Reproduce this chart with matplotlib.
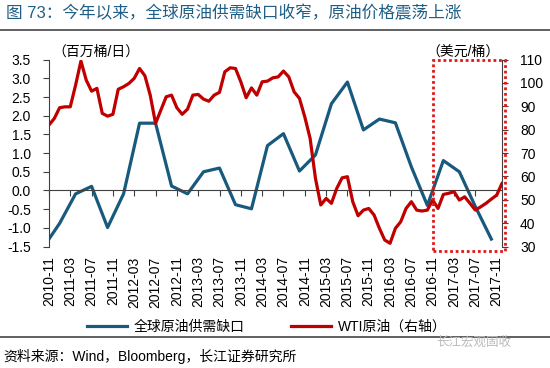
import matplotlib.pyplot as plt
import numpy as np
import pandas as pd
from matplotlib.patches import Rectangle
from matplotlib.lines import Line2D

plt.rcParams['font.family'] = ['Liberation Sans', 'Noto Sans CJK SC']
plt.rcParams['axes.unicode_minus'] = False

# WTI 原油月度价格（右轴，美元/桶）
wti_months = pd.period_range('2010-11', '2017-12', freq='M')
wti = [82.0, 84.8, 89.4, 89.8, 89.8, 99.1, 109.4, 101.2, 96.5, 97.7,
       87.0, 85.8, 86.6, 97.3, 98.4, 99.8, 102.0, 106.2, 103.1, 94.8,
       82.7, 88.4, 94.1, 94.8, 89.4, 86.6, 88.8, 94.8, 95.1, 93.1,
       92.2, 94.8, 96.0, 104.8, 106.5, 106.2, 100.5, 93.7, 97.9, 94.8,
       100.5, 100.8, 102.2, 102.6, 105.1, 102.6, 96.2, 93.4, 85.5, 76.3,
       59.2, 47.8, 50.6, 48.5, 54.9, 59.4, 59.9, 49.2, 43.2, 45.6,
       46.3, 43.5, 37.8, 32.8, 31.4, 37.8, 40.6, 46.3, 49.2, 45.6,
       45.2, 45.6, 49.9, 46.3, 52.3, 52.8, 53.5, 49.9, 51.3, 48.5,
       45.6, 47.0, 48.5, 50.3, 52.0, 57.0]

# 全球原油供需缺口（季度，百万桶/日）
gap_months = ['2010-11', '2011-01', '2011-04', '2011-07', '2011-10', '2012-01',
              '2012-04', '2012-07', '2012-10', '2013-01', '2013-04', '2013-07',
              '2013-10', '2014-01', '2014-04', '2014-07', '2014-10', '2015-01',
              '2015-04', '2015-07', '2015-10', '2016-01', '2016-04', '2016-07',
              '2016-10', '2017-01', '2017-04', '2017-07', '2017-10']
gap = [-1.30, -0.88, -0.09, 0.11, -0.99, -0.09, 1.80, 1.80, 0.12, -0.09,
       0.50, 0.60, -0.38, -0.49, 1.20, 1.52, 0.52, 0.95, 2.32, 2.90,
       1.62, 1.91, 1.81, 0.63, -0.40, 0.80, 0.50, -0.43, -1.30]

highlight_start = '2016-11'

title = '图 73：今年以来，全球原油供需缺口收窄，原油价格震荡上涨'
source = '资料来源：Wind，Bloomberg，长江证券研究所'

blue = '#175a7d'
red = '#c00000'

start = wti_months[0]
wti_x = np.arange(len(wti_months))
gap_x = [(pd.Period(m, freq='M') - start).n for m in gap_months]
tick_x = wti_x[:-1][::4]
tick_labels = [str(p) for p in wti_months[:-1][::4]]

fig = plt.figure(figsize=(5.5, 3.68), dpi=100)
ax = fig.add_axes([0.089, 0.330, 0.8237, 0.508])
ax2 = ax.twinx()

ax.plot(gap_x, gap, color=blue, lw=2.3, label='全球原油供需缺口')
ax2.plot(wti_x, wti, color=red, lw=2.3, label='WTI原油（右轴）')

ax.set_xlim(0, 85)
ax.set_ylim(-1.5, 3.5)
ax.set_yticks(np.arange(-1.5, 3.51, 0.5))
ax.set_yticklabels([f'{v:.1f}' for v in np.arange(-1.5, 3.51, 0.5)])
ax2.set_ylim(30, 110)
ax2.set_yticks(range(30, 111, 10))

for s in ['top', 'right']:
    ax.spines[s].set_visible(False)
for s in ['top', 'bottom', 'left']:
    ax2.spines[s].set_visible(False)
ax.spines['bottom'].set_position(('data', 0))
ax.spines['bottom'].set_color('#404040')
ax.spines['left'].set_color('#404040')
ax2.spines['right'].set_color('#404040')

ax.set_xticks(tick_x)
ax.tick_params(axis='x', direction='out', length=4, color='#404040', labelbottom=False)
ax.tick_params(axis='y', direction='out', length=4, color='#404040', pad=9, labelsize=10)
ax2.tick_params(axis='y', direction='out', length=4, color='#404040', pad=9, labelsize=10)

sec = ax.secondary_xaxis('bottom')
sec.set_xticks(tick_x, labels=tick_labels)
sec.tick_params(length=0, labelrotation=90, pad=7, labelsize=10)
sec.spines['bottom'].set_visible(False)

# 红色虚线框
hx = (pd.Period(highlight_start, freq='M') - start).n
ax2.add_patch(Rectangle((hx, 28.2), 85.6 - hx, 81.8, fill=False, ec='#e01818',
                        ls=(0, (1, 1)), lw=2, clip_on=False, zorder=5))

fig.text(52 / 550, 1 - 52 / 368, '（百万桶/日）', fontsize=10, va='center', ha='left')
fig.text(500 / 550, 1 - 52 / 368, '（美元/桶）', fontsize=10, va='center', ha='right')

handles = ax.get_lines() + ax2.get_lines()
fig.legend(handles, [h.get_label() for h in handles], loc='center',
           bbox_to_anchor=(0.485, 0.112), ncol=2, frameon=False, fontsize=10,
           handlelength=2.9, columnspacing=3.3, handletextpad=0.5)

fig.text(0.01, 1 - 13 / 368, title, fontsize=12, color='#1f5f85', va='center')
fig.add_artist(Line2D([0, 1], [1 - 30 / 368] * 2, color='#444444', lw=1.2))
fig.add_artist(Line2D([0, 1], [1 - 337 / 368] * 2, color='#444444', lw=1.2))
fig.text(0.006, 1 - 356 / 368, source, fontsize=10, va='center')
fig.text(0.93, 1 - 343 / 368, '长江宏观固收', fontsize=9, color='#bbbbbb',
         va='center', ha='right')

fig.savefig('out.png', dpi=100)
